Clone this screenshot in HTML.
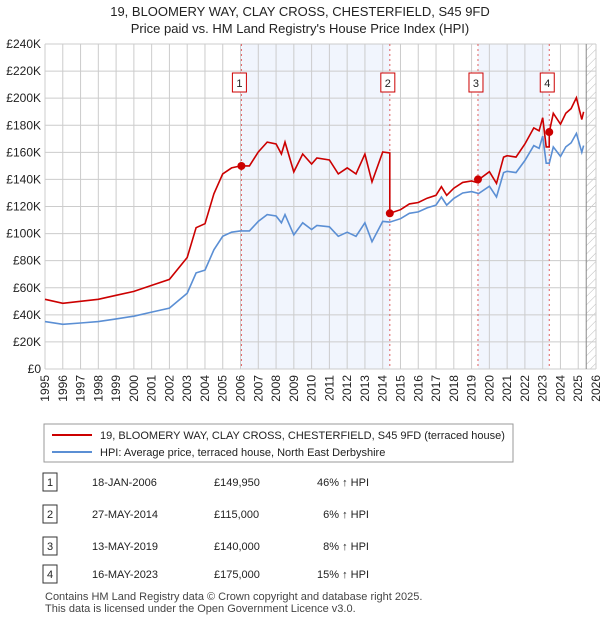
<!DOCTYPE html>
<html><head><meta charset="utf-8"><style>
body{margin:0;background:#fff;font-family:"Liberation Sans","DejaVu Sans",sans-serif;}
svg text{font-family:"Liberation Sans","DejaVu Sans",sans-serif;}
</style></head><body>
<svg id="c" width="600" height="620" xmlns="http://www.w3.org/2000/svg">
<defs><pattern id="hatch" width="6" height="6" patternUnits="userSpaceOnUse" patternTransform="rotate(45)"><line x1="0" y1="0" x2="0" y2="6" stroke="#bbb" stroke-width="1"/></pattern></defs>
<text x="300" y="16" text-anchor="middle" font-size="13" fill="#222">19, BLOOMERY WAY, CLAY CROSS, CHESTERFIELD, S45 9FD</text>
<text x="300" y="33" text-anchor="middle" font-size="13" fill="#222">Price paid vs. HM Land Registry's House Price Index (HPI)</text>
<g id="plot"></g>
<rect x="44" y="424" width="469" height="38" fill="#fff" stroke="#999"/>
<line x1="52" y1="435" x2="92" y2="435" stroke="#cc0000" stroke-width="2"/>
<text x="100" y="439" font-size="11" fill="#222">19, BLOOMERY WAY, CLAY CROSS, CHESTERFIELD, S45 9FD (terraced house)</text>
<line x1="52" y1="452" x2="92" y2="452" stroke="#5b8fd4" stroke-width="2"/>
<text x="100" y="456" font-size="11" fill="#222">HPI: Average price, terraced house, North East Derbyshire</text>
<g id="tbl"></g>
<text x="45" y="600" font-size="11" fill="#444">Contains HM Land Registry data © Crown copyright and database right 2025.</text>
<text x="45" y="612" font-size="11" fill="#444">This data is licensed under the Open Government Licence v3.0.</text>
</svg>
<script>
const hpiDates=[1995,1996,1997,1998,1999,2000,2001,2002,2003,2003.5,2004,2004.5,2005,2005.5,2006,2006.5,2007,2007.5,2008,2008.3,2008.5,2009,2009.5,2010,2010.3,2011,2011.5,2012,2012.5,2013,2013.4,2014,2014.4,2015,2015.5,2016,2016.5,2017,2017.3,2017.6,2018,2018.5,2019,2019.4,2020,2020.4,2020.8,2021,2021.5,2022,2022.5,2022.8,2023,2023.2,2023.37,2023.6,2024,2024.3,2024.6,2024.9,2025.2,2025.3];
const hpiValues=[35,33,34,35,37,39,42,45,56,71,73,88,98,101,102,102,109,114,113,108,114,99,108,103,106,105,98,101,98,108,94,109,108.5,111,115,116,119,121,127,121,126,130,131,129.6,135,127,145,146,145,154,165,163,172,152,152,164,157,164,167,174,160,165];
const saleDates=[2006.05,2014.4,2019.36,2023.37];
const salePrices=[149950,115000,140000,175000];
const saleLabels=["18-JAN-2006","27-MAY-2014","13-MAY-2019","16-MAY-2023"];
const salePriceText=["£149,950","£115,000","£140,000","£175,000"];
const saleHpiText=["46% ↑ HPI","6% ↑ HPI","8% ↑ HPI","15% ↑ HPI"];
const yTicks=[0,20,40,60,80,100,120,140,160,180,200,220,240];
const xTicks=[1995,1996,1997,1998,1999,2000,2001,2002,2003,2004,2005,2006,2007,2008,2009,2010,2011,2012,2013,2014,2015,2016,2017,2018,2019,2020,2021,2022,2023,2024,2025,2026];
const X0=45,X1=596,Y0=369,Y1=44;
const xs=t=>X0+(t-1995)/(2026-1995)*(X1-X0);
const ys=v=>Y0-v/240*(Y0-Y1);
const NS="http://www.w3.org/2000/svg";
function mk(tag,attrs,parent,text){const e=document.createElementNS(NS,tag);for(const k in attrs)e.setAttribute(k,attrs[k]);if(text!==undefined)e.textContent=text;parent.appendChild(e);return e;}
const plot=document.getElementById('plot');
mk('rect',{x:X0,y:Y1,width:X1-X0,height:Y0-Y1,fill:'#fff'},plot);
[[0,1],[2,3]].forEach(([a,b],i)=>{const r=mk('rect',{x:xs(saleDates[a]),y:Y1,width:xs(saleDates[b])-xs(saleDates[a]),height:Y0-Y1,fill:'#eef3fc',opacity:0.8},plot);

});
const hx=xs(2025.45);
mk('rect',{x:hx,y:Y1,width:X1-hx,height:Y0-Y1,fill:'url(#hatch)'},plot);
yTicks.forEach(v=>{mk('line',{x1:X0,x2:X1,y1:ys(v),y2:ys(v),stroke:'#ccc'},plot);
const t=mk('text',{x:X0-4,y:ys(v)+4,'text-anchor':'end','font-size':12,fill:'#222'},plot,v===0?'£0':'£'+v+'K');

});
xTicks.forEach(y=>{mk('line',{x1:xs(y),x2:xs(y),y1:Y1,y2:Y0,stroke:'#ccc'},plot);
const xx=xs(y)+4,yy=375;
const t=mk('text',{x:xx,y:yy,'text-anchor':'end','font-size':12,fill:'#222',transform:'rotate(-90 '+xx+' '+yy+')'},plot,String(y));

});
mk('line',{x1:hx,x2:hx,y1:Y1,y2:Y0,stroke:'#888'},plot);
function hpiAt(t){for(let i=1;i<hpiDates.length;i++){if(t<=hpiDates[i]){const f=(t-hpiDates[i-1])/(hpiDates[i]-hpiDates[i-1]);return hpiValues[i-1]+f*(hpiValues[i]-hpiValues[i-1]);}}return hpiValues[hpiValues.length-1];}
saleDates.forEach((d,i)=>{const l=mk('line',{x1:xs(d),x2:xs(d),y1:Y1,y2:Y0,stroke:'#e06060','stroke-dasharray':'2,3'},plot);


const b=mk('rect',{x:xs(d)-9,y:73,width:14,height:19,fill:'#fff',stroke:'#cc0000'},plot);


mk('text',{x:xs(d)-2,y:87,'text-anchor':'middle','font-size':11,fill:'#222'},plot,String(i+1));});
const bp=hpiDates.map((d,i)=>xs(d).toFixed(1)+','+ys(hpiValues[i]).toFixed(1)).join(' ');
const bl=mk('polyline',{points:bp,fill:'none',stroke:'#5b8fd4','stroke-width':1.6},plot);


const ratios=saleDates.map((d,i)=>salePrices[i]/1000/hpiAt(d));
const pts=[];
hpiDates.forEach((d,i)=>{let k=0;for(let j=0;j<saleDates.length;j++)if(d>=saleDates[j])k=j;
if(saleDates.some(sd=>sd===d))return;pts.push([d,hpiValues[i]*ratios[k]]);});
saleDates.forEach((d,i)=>{if(i>0)pts.push([d-0.001,hpiAt(d)*ratios[i-1]]);pts.push([d,salePrices[i]/1000]);});
pts.sort((a,b)=>a[0]-b[0]);
const rl=mk('polyline',{points:pts.map(p=>xs(p[0]).toFixed(1)+','+ys(p[1]).toFixed(1)).join(' '),fill:'none',stroke:'#cc0000','stroke-width':1.6},plot);


saleDates.forEach((d,i)=>{const c=mk('circle',{cx:xs(d),cy:ys(salePrices[i]/1000),r:4,fill:'#cc0000'},plot);

});
const tbl=document.getElementById('tbl');
const rowY=[482,514,546,574];
saleDates.forEach((d,i)=>{const y=rowY[i];
const b=mk('rect',{x:43,y:y-9,width:14,height:18,fill:'#fff',stroke:'#333'},tbl);


mk('text',{x:50,y:y+4,'text-anchor':'middle','font-size':11,fill:'#222'},tbl,String(i+1));
const a=mk('text',{x:92,y:y+4,'font-size':11,fill:'#222'},tbl,saleLabels[i]);


const p=mk('text',{x:214,y:y+4,'font-size':11,fill:'#222'},tbl,salePriceText[i]);


const h=mk('text',{x:369,y:y+4,'text-anchor':'end','font-size':11,fill:'#222'},tbl,saleHpiText[i]);

});
</script>
</body></html>
